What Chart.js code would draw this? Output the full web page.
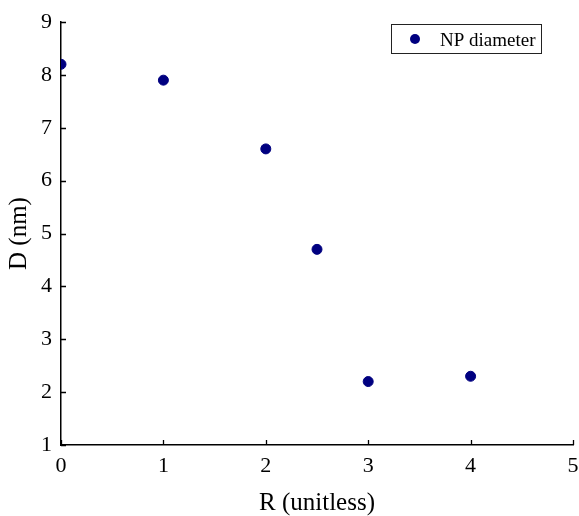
<!DOCTYPE html>
<html>
<head>
<meta charset="utf-8">
<script src="https://cdn.jsdelivr.net/npm/chart.js@4/dist/chart.umd.min.js"></script>
<style>
html,body{margin:0;padding:0;background:#fff;}
#wrap{width:579px;height:516px;position:relative;}
</style>
</head>
<body>
<div id="wrap"><canvas id="c" width="579" height="516"></canvas></div>
<script>
const seriesLabel = "NP diameter";
const rValues = [0, 1, 2, 2.5, 3, 4];
const dValues = [8.2, 7.9, 6.6, 4.7, 2.2, 2.3];
const xTicks = [0, 1, 2, 3, 4, 5];
const yTicks = [1, 2, 3, 4, 5, 6, 7, 8, 9];
const xTitle = "R (unitless)";
const yTitle = "D (nm)";

const FONT = "'Liberation Serif','Times New Roman',serif";
const points = rValues.map((x, i) => ({x: x, y: dValues[i]}));

const inwardTicks = {
  id: 'inwardTicks',
  afterDraw(chart) {
    const ctx = chart.ctx, xs = chart.scales.x, ys = chart.scales.y;
    const a = chart.chartArea;
    ctx.save();
    ctx.strokeStyle = '#000';
    ctx.lineWidth = 1.3;
    ctx.beginPath();
    xTicks.forEach(v => {
      const px = Math.round(xs.getPixelForValue(v)) + 0.5;
      ctx.moveTo(px, a.bottom); ctx.lineTo(px, a.bottom - 5);
    });
    yTicks.forEach(v => {
      const py = Math.round(ys.getPixelForValue(v)) + 0.5;
      ctx.moveTo(a.left, py); ctx.lineTo(a.left + 5, py);
    });
    ctx.stroke();
    // legend box
    const ds = chart.data.datasets[0];
    const bx = 391.5, by = 24.5, bw = 150, bh = 29;
    ctx.fillStyle = '#fff';
    ctx.fillRect(bx, by, bw, bh);
    ctx.lineWidth = 1;
    ctx.strokeStyle = '#222';
    ctx.strokeRect(bx, by, bw, bh);
    ctx.fillStyle = ds.backgroundColor;
    ctx.beginPath();
    ctx.arc(415, 39, 5, 0, Math.PI * 2);
    ctx.fill();
    ctx.fillStyle = '#000';
    ctx.font = "19px " + FONT;
    ctx.textBaseline = 'alphabetic';
    ctx.textAlign = 'left';
    ctx.fillText(ds.label, 440, 46);
    ctx.restore();
  }
};

new Chart(document.getElementById('c'), {
  type: 'scatter',
  data: {
    datasets: [{
      label: seriesLabel,
      data: points,
      backgroundColor: '#000080',
      borderColor: '#000080',
      pointRadius: 5,
      pointHoverRadius: 5
    }]
  },
  options: {
    responsive: false,
    animation: false,
    layout: {padding: {top: 22, right: 6, left: 0, bottom: 0}},
    plugins: {legend: {display: false}, tooltip: {enabled: false}},
    scales: {
      x: {
        type: 'linear', min: 0, max: 5,
        afterFit(s) { s.height = 71; s.paddingLeft = 0; s.paddingRight = 0; },
        afterBuildTicks(s) { s.ticks = xTicks.map(v => ({value: v})); },
        border: {display: true, color: '#000', width: 1.5},
        grid: {display: true, drawOnChartArea: false, drawTicks: false},
        ticks: {color: '#000', font: {family: FONT, size: 22}, padding: 8, maxRotation: 0},
        title: {display: true, text: xTitle, color: '#000', font: {family: FONT, size: 25}, padding: {top: 0, bottom: -2}}
      },
      y: {
        type: 'linear', min: 1, max: 9,
        afterFit(s) { s.width = 61; s.paddingTop = 0; s.paddingBottom = 0; },
        afterBuildTicks(s) { s.ticks = yTicks.map(v => ({value: v})); },
        border: {display: true, color: '#000', width: 1.5},
        grid: {display: true, drawOnChartArea: false, drawTicks: false},
        ticks: {color: '#000', font: {family: FONT, size: 22}, padding: 9},
        title: {display: true, text: yTitle, color: '#000', font: {family: FONT, size: 25}, padding: {top: 4, bottom: 0}}
      }
    }
  },
  plugins: [inwardTicks]
});
</script>
</body>
</html>
